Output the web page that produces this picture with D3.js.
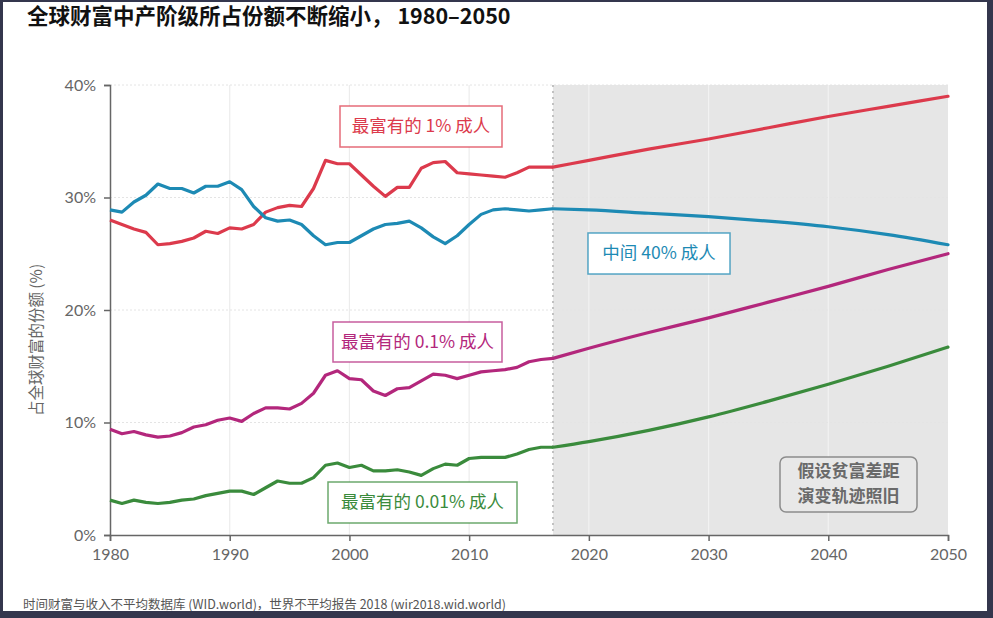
<!DOCTYPE html>
<html><head><meta charset="utf-8">
<script src="https://cdn.jsdelivr.net/npm/d3@7"></script>
<style>
html,body{margin:0;padding:0;background:#fff;}
svg{display:block;}
</style></head>
<body>
<svg id="chart" width="993" height="618"></svg>
<script>
// ---------- DATA ----------
const histYears = d3.range(1980, 2018);
const projYears = [2017, 2020, 2025, 2030, 2035, 2040, 2045, 2050];

const top1Hist = [28.0,27.6,27.2,26.9,25.8,25.9,26.1,26.4,27.0,26.8,27.3,27.2,27.6,28.7,29.1,29.3,29.2,30.8,33.3,33.0,33.0,32.0,31.0,30.1,30.9,30.9,32.6,33.1,33.2,32.2,32.1,32.0,31.9,31.8,32.2,32.7,32.7,32.7];
const mid40Hist = [28.9,28.7,29.6,30.2,31.2,30.8,30.8,30.4,31.0,31.0,31.4,30.7,29.2,28.2,27.9,28.0,27.6,26.6,25.8,26.0,26.0,26.6,27.2,27.6,27.7,27.9,27.3,26.5,25.9,26.6,27.6,28.5,28.9,29.0,28.9,28.8,28.9,29.0];
const top01Hist = [9.4,9.0,9.2,8.9,8.7,8.8,9.1,9.6,9.8,10.2,10.4,10.1,10.8,11.3,11.3,11.2,11.7,12.6,14.2,14.6,13.9,13.8,12.8,12.4,13.0,13.1,13.7,14.3,14.2,13.9,14.2,14.5,14.6,14.7,14.9,15.4,15.6,15.7];
const top001Hist = [3.1,2.8,3.1,2.9,2.8,2.9,3.1,3.2,3.5,3.7,3.9,3.9,3.6,4.2,4.8,4.6,4.6,5.1,6.2,6.4,6.0,6.2,5.7,5.7,5.8,5.6,5.3,5.9,6.3,6.2,6.8,6.9,6.9,6.9,7.2,7.6,7.8,7.8];

const top1Proj = [32.7,33.3,34.3,35.2,36.2,37.2,38.1,39.0];
const mid40Proj = [29.0,28.9,28.6,28.3,27.9,27.4,26.7,25.8];
const top01Proj = [15.7,16.6,18.0,19.3,20.7,22.1,23.6,25.0];
const top001Proj = [7.8,8.3,9.3,10.5,11.9,13.4,15.0,16.7];

const xTicks = [1980,1990,2000,2010,2020,2030,2040,2050];
const yTicks = [0,10,20,30,40];
const projStart = 2017;

const seriesLabels = ["最富有的 1% 成人","中间 40% 成人","最富有的 0.1% 成人","最富有的 0.01% 成人"];
const seriesColors = ["#dc3a4c","#1d8ab4","#b3277c","#3a8b3c"];

const titleText = "全球财富中产阶级所占份额不断缩小， 1980–2050";
const yTitle = "占全球财富的份额 (%)";
const sourceText = "时间财富与收入不平均数据库 (WID.world)，世界不平均报告 2018 (wir2018.wid.world)";
const noteLines = ["假设贫富差距","演变轨迹照旧"];

// ---------- LAYOUT ----------
const svg = d3.select("#chart");
const W = 993, H = 618;
const m = {left:110, right:45, top:85, bottom:83};
const x = d3.scaleLinear().domain([1980,2050]).range([m.left, W - m.right]);
const y = d3.scaleLinear().domain([0,40]).range([H - m.bottom, m.top]);

const CJK = "'Noto Sans CJK SC','Noto Sans',sans-serif";
const LAT = "Lato,'Open Sans',sans-serif";

svg.append("rect").attr("width",W).attr("height",H).attr("fill","#fff");

// projection shading
svg.append("rect")
  .attr("x", x(projStart)).attr("y", y(40))
  .attr("width", x(2050)-x(projStart)).attr("height", y(0)-y(40))
  .attr("fill","#e6e6e6");

// grid
const g = svg.append("g");
g.selectAll("line.vg").data(xTicks.slice(1,-1)).join("line")
  .attr("x1",d=>x(d)).attr("x2",d=>x(d)).attr("y1",y(40)).attr("y2",y(0))
  .attr("stroke",d=>d>projStart?"#f2f2f2":"#ececec").attr("stroke-width",1.2);
g.selectAll("line.hg").data(yTicks.slice(1)).join("line")
  .attr("x1",x(1980)).attr("x2",x(2050)).attr("y1",d=>y(d)).attr("y2",d=>y(d))
  .attr("stroke","#e4e4e4").attr("stroke-width",1).attr("stroke-dasharray","2,2");

// dotted projection line
svg.append("line").attr("x1",x(projStart)).attr("x2",x(projStart))
  .attr("y1",y(40)).attr("y2",y(0))
  .attr("stroke","#a8a8a8").attr("stroke-width",1.3).attr("stroke-dasharray","2,4");

// axes
const yAxis = d3.axisLeft(y).tickValues(yTicks).tickFormat(d=>d+"%").tickSize(6).tickPadding(8);
const xAxis = d3.axisBottom(x).tickValues(xTicks).tickFormat(d3.format("d")).tickSize(6).tickPadding(8);
const ya = svg.append("g").attr("transform",`translate(${x(1980)},0)`).call(yAxis);
const xa = svg.append("g").attr("transform",`translate(0,${y(0)})`).call(xAxis);
[ya,xa].forEach(a=>{
  a.select(".domain").attr("stroke","#666").attr("stroke-width",1.5);
  a.selectAll(".tick line").attr("stroke","#666").attr("stroke-width",1.5);
  a.selectAll(".tick text").attr("fill","#666").style("font-family",LAT).style("font-size","16px");
});

// lines
const lineH = d3.line().x(d=>x(d[0])).y(d=>y(d[1])).curve(d3.curveLinear);
const lineP = d3.line().x(d=>x(d[0])).y(d=>y(d[1])).curve(d3.curveMonotoneX);
const hist = [top1Hist, mid40Hist, top01Hist, top001Hist];
const proj = [top1Proj, mid40Proj, top01Proj, top001Proj];
hist.forEach((h,i)=>{
  svg.append("path").datum(histYears.map((yr,j)=>[yr,h[j]]))
    .attr("d",lineH).attr("fill","none").attr("stroke",seriesColors[i])
    .attr("stroke-width",3.2).attr("stroke-linejoin","round");
  svg.append("path").datum(projYears.map((yr,j)=>[yr,proj[i][j]]))
    .attr("d",lineP).attr("fill","none").attr("stroke",seriesColors[i])
    .attr("stroke-width",3.2).attr("stroke-linecap","round");
});

// series label boxes
const boxes = [
  {x:340,y:106,w:162,h:41},
  {x:588,y:233,w:142,h:41},
  {x:333,y:322,w:169,h:40},
  {x:328,y:482,w:189,h:41}
];
boxes.forEach((b,i)=>{
  svg.append("rect").attr("x",b.x).attr("y",b.y).attr("width",b.w).attr("height",b.h)
    .attr("fill","#fff").attr("stroke",seriesColors[i]).attr("stroke-opacity",0.75).attr("stroke-width",1.5);
  svg.append("text").attr("x",b.x+b.w/2).attr("y",b.y+b.h/2+1)
    .attr("text-anchor","middle").attr("dominant-baseline","middle")
    .attr("fill",seriesColors[i]).style("font-family",CJK).style("font-size","17.5px")
    .text(seriesLabels[i]);
});

// note box
svg.append("rect").attr("x",780).attr("y",457).attr("width",137).attr("height",55)
  .attr("rx",6).attr("fill","#e8e8e8").attr("stroke","#8c8c8c").attr("stroke-width",1.5);
noteLines.forEach((t,i)=>{
  svg.append("text").attr("x",848.5).attr("y",472+i*25)
    .attr("text-anchor","middle").attr("dominant-baseline","middle")
    .attr("fill","#6a6a6a").style("font-family",CJK).style("font-size","17px").style("font-weight","bold")
    .text(t);
});

// y title
svg.append("text").attr("transform","translate(38,340) rotate(-90)")
  .attr("text-anchor","middle").attr("dominant-baseline","middle")
  .attr("fill","#666").style("font-family",CJK).style("font-size","15.5px")
  .text(yTitle);

// title
svg.append("text").attr("x",27).attr("y",18).attr("dominant-baseline","middle")
  .attr("fill","#111").style("font-family",CJK).style("font-size","21.5px").style("font-weight","bold")
  .text(titleText);

// source
svg.append("text").attr("x",23).attr("y",606).attr("dominant-baseline","middle")
  .attr("fill","#555").style("font-family",CJK).style("font-size","12.5px")
  .text(sourceText);

// frame
const frame = svg.append("g").attr("fill","#34364d");
frame.append("rect").attr("x",0).attr("y",0).attr("width",3).attr("height",H);
frame.append("rect").attr("x",W-6).attr("y",0).attr("width",6).attr("height",H);
frame.append("rect").attr("x",0).attr("y",H-7).attr("width",W).attr("height",7);
frame.append("rect").attr("x",0).attr("y",0).attr("width",W).attr("height",2);
</script>
</body></html>
